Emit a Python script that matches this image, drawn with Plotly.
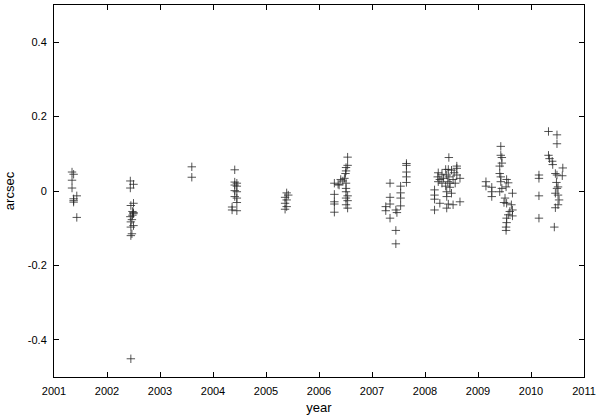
import plotly.graph_objects as go

# Observation epochs (year) and offsets (arcsec), grouped by season
yr_2001 = [2001.34, 2001.37, 2001.34, 2001.34, 2001.43, 2001.37, 2001.37, 2001.37, 2001.43]
val_2001 = [0.051, 0.045, 0.029, 0.008, -0.013, -0.021, -0.026, -0.030, -0.071]

yr_2002 = [2002.44, 2002.50, 2002.44, 2002.50, 2002.45, 2002.48, 2002.50, 2002.44, 2002.47,
           2002.45, 2002.50, 2002.45, 2002.47, 2002.45, 2002.48, 2002.50, 2002.45]
val_2002 = [0.027, 0.018, 0.008, -0.033, -0.039, -0.055, -0.061, -0.069, -0.077,
            -0.083, -0.093, -0.097, -0.115, -0.120, -0.065, -0.058, -0.451]

yr_2003 = [2003.60, 2003.60]
val_2003 = [0.065, 0.037]

yr_2004 = [2004.41, 2004.41, 2004.45, 2004.41, 2004.45, 2004.41, 2004.45, 2004.41, 2004.45,
           2004.45, 2004.36, 2004.36, 2004.45]
val_2004 = [0.057, 0.024, 0.021, 0.016, 0.013, 0.001, -0.002, -0.015, -0.019,
            -0.031, -0.043, -0.051, -0.053]

yr_2005 = [2005.39, 2005.42, 2005.36, 2005.39, 2005.36, 2005.39, 2005.36]
val_2005 = [-0.005, -0.011, -0.017, -0.024, -0.033, -0.042, -0.049]

yr_2006 = [2006.29, 2006.29, 2006.29, 2006.29, 2006.29, 2006.36, 2006.41, 2006.45, 2006.48,
           2006.38, 2006.54, 2006.54, 2006.51, 2006.51, 2006.50, 2006.51, 2006.51, 2006.51,
           2006.54, 2006.51, 2006.54, 2006.51, 2006.54]
val_2006 = [0.021, -0.009, -0.029, -0.035, -0.057, 0.018, 0.031, 0.027, 0.034,
            0.016, 0.091, 0.069, 0.063, 0.054, 0.047, 0.021, 0.007, -0.002,
            -0.013, -0.019, -0.026, -0.037, -0.046]

yr_2007 = [2007.34, 2007.34, 2007.34, 2007.26, 2007.26, 2007.34, 2007.45, 2007.47, 2007.45,
           2007.45, 2007.54, 2007.54, 2007.54, 2007.54, 2007.65, 2007.65, 2007.65, 2007.65, 2007.65]
val_2007 = [0.021, -0.017, -0.035, -0.042, -0.053, -0.073, -0.051, -0.058, -0.106,
            -0.142, 0.013, -0.005, -0.019, -0.040, 0.074, 0.069, 0.051, 0.038, 0.023]

yr_2008 = [2008.45, 2008.60, 2008.60, 2008.39, 2008.44, 2008.50, 2008.25, 2008.32, 2008.55,
           2008.60, 2008.24, 2008.41, 2008.45, 2008.28, 2008.35, 2008.53, 2008.66, 2008.25,
           2008.32, 2008.43, 2008.47, 2008.57, 2008.39, 2008.47, 2008.18, 2008.18, 2008.41,
           2008.50, 2008.18, 2008.41, 2008.28, 2008.44, 2008.66, 2008.53, 2008.18, 2008.41]
val_2008 = [0.090, 0.067, 0.061, 0.058, 0.058, 0.056, 0.049, 0.045, 0.049,
            0.043, 0.038, 0.043, 0.038, 0.031, 0.034, 0.031, 0.034, 0.025,
            0.021, 0.025, 0.021, 0.021, 0.013, 0.010, 0.003, -0.011, -0.002,
            -0.006, -0.022, -0.015, -0.033, -0.035, -0.029, -0.037, -0.051, -0.046]

yr_2009 = [2009.43, 2009.43, 2009.45, 2009.45, 2009.41, 2009.15, 2009.15, 2009.26, 2009.26,
           2009.26, 2009.41, 2009.43, 2009.43, 2009.54, 2009.57, 2009.53, 2009.45, 2009.41,
           2009.65, 2009.51, 2009.54, 2009.49, 2009.63, 2009.65, 2009.60, 2009.57, 2009.54,
           2009.54, 2009.53, 2009.65, 2009.53]
val_2009 = [0.120, 0.096, 0.090, 0.075, 0.067, 0.025, 0.013, 0.010, -0.002,
            -0.015, 0.047, 0.038, 0.025, 0.031, 0.022, 0.011, 0.007, -0.002,
            -0.006, -0.019, -0.033, -0.031, -0.037, -0.051, -0.055, -0.064, -0.073,
            -0.085, -0.097, -0.067, -0.106]

yr_2010 = [2010.33, 2010.49, 2010.49, 2010.33, 2010.35, 2010.40, 2010.41, 2010.60, 2010.15,
           2010.15, 2010.46, 2010.49, 2010.59, 2010.48, 2010.51, 2010.49, 2010.46, 2010.51,
           2010.53, 2010.51, 2010.46, 2010.15, 2010.15, 2010.44]
val_2010 = [0.160, 0.151, 0.127, 0.096, 0.087, 0.080, 0.071, 0.062, 0.043,
            0.034, 0.047, 0.043, 0.041, 0.023, 0.011, 0.007, -0.006, -0.011,
            -0.024, -0.037, -0.045, -0.013, -0.073, -0.097]

years = yr_2001 + yr_2002 + yr_2003 + yr_2004 + yr_2005 + yr_2006 + yr_2007 + yr_2008 + yr_2009 + yr_2010
values = (val_2001 + val_2002 + val_2003 + val_2004 + val_2005 + val_2006 + val_2007
          + val_2008 + val_2009 + val_2010)

x_ticks = list(range(2001, 2012))
y_ticks = [-0.4, -0.2, 0, 0.2, 0.4]
y_tick_text = ["-0.4", "-0.2", "0", "0.2", "0.4"]

fig = go.Figure()
fig.add_trace(go.Scatter(
    x=years, y=values, mode="markers",
    marker=dict(symbol="cross-thin", size=6, color="rgba(40,40,40,0.8)",
                line=dict(width=1, color="rgba(40,40,40,0.8)")),
    showlegend=False,
))

font = dict(family="Liberation Sans, Arial, sans-serif", size=11, color="black")
fig.update_layout(
    width=600, height=416,
    margin=dict(l=54, r=12, t=4, b=37),
    paper_bgcolor="white", plot_bgcolor="white",
    font=font,
    xaxis=dict(range=[2001, 2011], tickvals=x_ticks, ticks="inside", ticklen=5,
               tickcolor="black", mirror="ticks", showline=True, linecolor="black",
               linewidth=1, showgrid=False, zeroline=False,
               title=dict(text="year", standoff=6), ticklabelstandoff=4),
    yaxis=dict(range=[-0.5, 0.5], tickvals=y_ticks, ticktext=y_tick_text, ticks="inside",
               ticklen=5, tickcolor="black", mirror="ticks", showline=True,
               linecolor="black", linewidth=1, showgrid=False, zeroline=False,
               title=dict(text="arcsec", standoff=10), ticklabelstandoff=4),
)

fig.write_html("out.html", config={"displayModeBar": False},
               post_script="document.body.style.margin='0';")
